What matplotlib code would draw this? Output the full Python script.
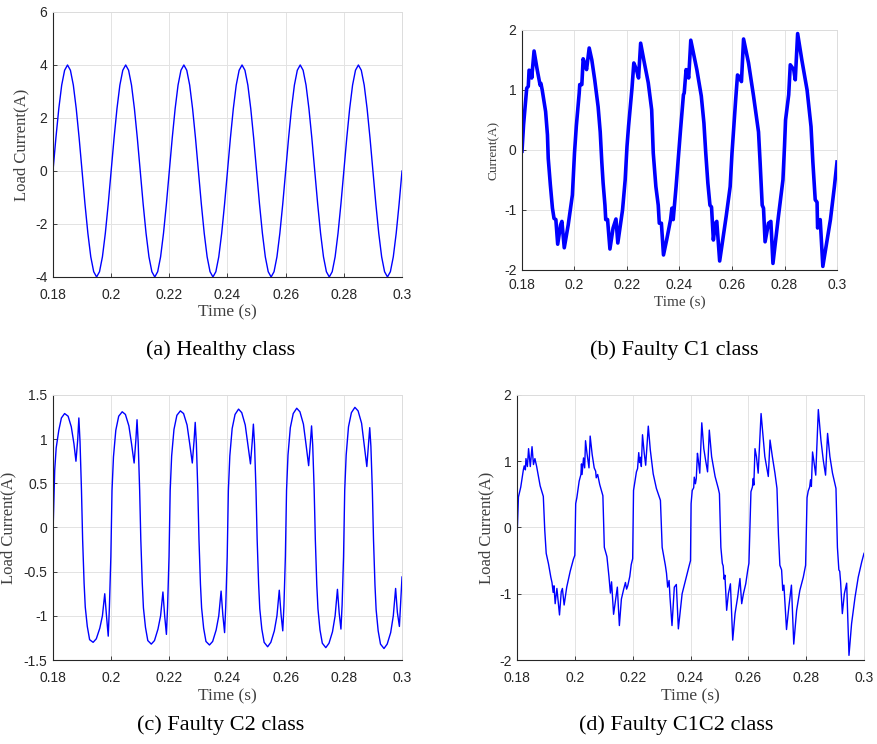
import matplotlib
matplotlib.use('Agg')
import matplotlib.pyplot as plt
import numpy as np

plt.rcParams['axes.unicode_minus'] = False

# --- (a) classe saine : courant de charge, un point par ms de 0.18 a 0.30 s ---
i_sain = [
    0.00, 1.24, 2.35, 3.24, 3.80, 4.00, 3.80, 3.24, 2.35, 1.24,
    0.00, -1.24, -2.35, -3.24, -3.80, -4.00, -3.80, -3.24, -2.35, -1.24,
    0.00, 1.24, 2.35, 3.24, 3.80, 4.00, 3.80, 3.24, 2.35, 1.24,
    0.00, -1.24, -2.35, -3.24, -3.80, -4.00, -3.80, -3.24, -2.35, -1.24,
    0.00, 1.24, 2.35, 3.24, 3.80, 4.00, 3.80, 3.24, 2.35, 1.24,
    0.00, -1.24, -2.35, -3.24, -3.80, -4.00, -3.80, -3.24, -2.35, -1.24,
    0.00, 1.24, 2.35, 3.24, 3.80, 4.00, 3.80, 3.24, 2.35, 1.24,
    0.00, -1.24, -2.35, -3.24, -3.80, -4.00, -3.80, -3.24, -2.35, -1.24,
    0.00, 1.24, 2.35, 3.24, 3.80, 4.00, 3.80, 3.24, 2.35, 1.24,
    0.00, -1.24, -2.35, -3.24, -3.80, -4.00, -3.80, -3.24, -2.35, -1.24,
    0.00, 1.24, 2.35, 3.24, 3.80, 4.00, 3.80, 3.24, 2.35, 1.24,
    0.00, -1.24, -2.35, -3.24, -3.80, -4.00, -3.80, -3.24, -2.35, -1.24,
    0.00,
]

# --- (b) defaut C1 (temps en ms) ---
t_c1_ms = [
    180.0, 180.6, 181.8, 182.4, 182.7, 183.5, 183.7, 184.6, 185.7, 186.9, 187.2, 187.7,
    189.0, 189.7, 190.0, 190.8, 191.6, 192.2, 192.9, 193.6, 194.7, 195.2, 196.1, 197.6, 199.2,
    200.0, 200.7, 201.8, 202.0, 202.8, 203.3, 204.1, 204.6, 205.6, 206.6, 207.7, 209.0,
    209.8, 210.4, 210.9, 211.6, 211.9, 212.6, 213.5, 214.7, 215.8, 216.5, 218.3, 219.3,
    220.0, 220.6, 221.6, 221.9, 222.6, 223.6, 224.4, 225.2, 226.4, 228.1, 229.4,
    230.0, 231.0, 231.9, 232.3, 233.1, 233.9, 235.1, 236.6, 237.1, 237.6, 238.7, 239.7,
    240.4, 241.5, 241.8, 242.5, 243.2, 243.5, 244.3, 246.6, 248.3, 249.3,
    250.0, 250.8, 251.6, 252.2, 252.9, 253.7, 254.2, 255.3, 257.8, 259.3, 260.0,
    260.6, 261.4, 262.1, 262.8, 263.6, 264.4, 266.3, 268.2,
    270.1, 270.7, 271.5, 272.0, 272.6, 273.9, 274.8, 275.6, 277.7, 279.4, 280.0,
    280.4, 281.6, 282.2, 283.5, 284.1, 285.0, 286.6, 288.6,
    290.1, 290.8, 291.7, 292.4, 292.6, 293.6, 294.6, 297.5, 299.0, 300.0,
]
i_c1 = [
    -0.02, 0.42, 1.03, 1.06, 1.33, 1.31, 1.20, 1.65, 1.36, 1.08, 1.11, 1.00,
    0.64, 0.25, -0.14, -0.58, -0.97, -1.14, -1.16, -1.57, -1.25, -1.19, -1.63, -1.25, -0.75,
    -0.05, 0.40, 0.95, 1.09, 1.09, 1.52, 1.42, 1.34, 1.70, 1.50, 1.17, 0.72,
    0.30, -0.20, -0.55, -0.92, -1.16, -1.16, -1.65, -1.30, -1.15, -1.55, -1.00, -0.50,
    0.06, 0.40, 0.90, 1.03, 1.45, 1.34, 1.20, 1.78, 1.50, 1.12, 0.67,
    -0.05, -0.61, -0.92, -1.22, -1.22, -1.75, -1.50, -1.16, -0.97, -1.16, -0.61, -0.05,
    0.34, 0.92, 0.95, 1.34, 1.25, 1.20, 1.83, 1.34, 0.90, 0.45,
    -0.05, -0.55, -0.92, -0.95, -1.50, -1.22, -1.19, -1.85, -1.10, -0.61, -0.05,
    0.34, 0.84, 1.25, 1.22, 1.14, 1.85, 1.45, 0.90,
    0.30, -0.20, -0.92, -0.97, -1.53, -1.22, -1.19, -1.89, -1.10, -0.50, 0.06,
    0.50, 0.92, 1.42, 1.34, 1.17, 1.94, 1.50, 1.00,
    0.39, -0.20, -0.83, -0.87, -1.30, -1.16, -1.94, -1.16, -0.61, -0.20,
]

# --- (c) defaut C2 (temps en ms) ---
t_c2_ms = [
    180.0, 180.1, 180.6, 181.1, 182.0, 182.9, 184.0, 185.2, 186.3, 187.2, 187.9, 188.5, 188.9, 189.3, 189.8,
    190.2, 190.7, 191.1, 191.8, 192.6, 193.8, 194.9, 196.1, 197.0, 197.8, 198.4, 199.0, 199.4, 199.9,
    200.3, 200.8, 201.6, 202.6, 203.8, 204.9, 206.1, 207.0, 207.9, 208.5, 208.9, 209.3, 209.8,
    210.2, 210.7, 211.1, 211.8, 212.6, 213.8, 214.9, 216.1, 217.0, 217.8, 218.4, 219.0, 219.4, 219.9,
    220.3, 220.8, 221.6, 222.6, 223.8, 224.9, 226.1, 227.0, 227.9, 228.5, 228.9, 229.3, 229.8,
    230.2, 230.7, 231.1, 231.8, 232.6, 233.8, 234.9, 236.1, 237.0, 237.8, 238.4, 239.0, 239.4, 239.9,
    240.3, 240.8, 241.6, 242.6, 243.8, 244.9, 246.1, 247.0, 247.9, 248.5, 248.9, 249.3, 249.8,
    250.2, 250.7, 251.1, 251.8, 252.6, 253.8, 254.9, 256.1, 257.0, 257.8, 258.4, 259.0, 259.4, 259.9,
    260.3, 260.8, 261.6, 262.6, 263.8, 264.9, 266.1, 267.0, 267.9, 268.5, 268.9, 269.3, 269.8,
    270.2, 270.7, 271.1, 271.8, 272.6, 273.8, 274.9, 276.1, 277.0, 277.8, 278.4, 279.0, 279.4, 279.9,
    280.3, 280.8, 281.6, 282.6, 283.8, 284.9, 286.1, 287.0, 287.9, 288.5, 288.9, 289.3, 289.8,
    290.2, 290.7, 291.1, 291.8, 292.6, 293.8, 294.9, 296.1, 297.0, 297.8, 298.4, 299.1, 300.0,
]
i_c2 = [
    -0.46, 0.05, 0.65, 0.90, 1.10, 1.24, 1.29, 1.26, 1.14, 0.95, 0.75, 0.99, 1.24, 0.97, 0.42,
    -0.14, -0.63, -0.90, -1.12, -1.27, -1.30, -1.26, -1.14, -1.00, -0.75, -1.00, -1.23, -0.90, -0.33,
    0.42, 0.80, 1.10, 1.26, 1.31, 1.28, 1.15, 0.95, 0.73, 0.99, 1.22, 0.96, 0.42,
    -0.14, -0.63, -0.91, -1.13, -1.28, -1.32, -1.28, -1.15, -1.00, -0.73, -1.00, -1.21, -0.90, -0.33,
    0.42, 0.81, 1.11, 1.27, 1.32, 1.29, 1.16, 0.95, 0.73, 0.98, 1.19, 0.95, 0.42,
    -0.14, -0.64, -0.91, -1.14, -1.29, -1.33, -1.29, -1.16, -1.00, -0.72, -0.99, -1.19, -0.89, -0.33,
    0.42, 0.81, 1.12, 1.28, 1.34, 1.30, 1.16, 0.94, 0.72, 0.97, 1.17, 0.94, 0.42,
    -0.14, -0.64, -0.92, -1.15, -1.30, -1.35, -1.30, -1.17, -1.00, -0.71, -0.98, -1.17, -0.89, -0.33,
    0.42, 0.82, 1.13, 1.29, 1.35, 1.31, 1.17, 0.94, 0.70, 0.96, 1.15, 0.93, 0.42,
    -0.14, -0.65, -0.92, -1.16, -1.31, -1.36, -1.31, -1.18, -1.00, -0.70, -0.97, -1.15, -0.88, -0.33,
    0.42, 0.82, 1.14, 1.30, 1.36, 1.32, 1.18, 0.94, 0.69, 0.95, 1.13, 0.92, 0.42,
    -0.14, -0.65, -0.93, -1.17, -1.32, -1.37, -1.32, -1.19, -1.00, -0.69, -0.96, -1.12, -0.56,
]

# --- (d) defaut C1C2 (temps en ms) ---
t_c1c2_ms = [
    180.0, 180.5, 181.3, 182.2, 182.5, 182.9, 183.1, 183.6, 184.0, 184.6, 185.2, 185.7, 186.2, 186.8,
    188.0, 189.1, 189.6, 190.1, 190.9, 191.7, 192.1, 192.5, 192.8, 193.2, 193.8, 194.7, 195.3, 195.7,
    196.3, 197.2, 198.4, 199.5, 200.0,
    200.3, 200.7, 201.5, 202.1, 202.3, 202.5, 203.0, 203.4, 203.7, 204.2, 204.9, 205.3, 206.0, 206.7,
    207.2, 207.4, 207.9, 208.6, 209.7, 210.2, 211.1, 211.8, 212.3, 212.7, 213.4, 214.0, 214.7, 215.4,
    216.1, 216.9, 217.5, 217.9, 218.3, 219.0, 219.5, 220.0,
    220.3, 221.3, 221.7, 222.1, 222.4, 222.7, 223.0, 223.4, 224.0, 224.5, 225.4, 226.1, 227.1, 228.2,
    229.6, 230.2, 230.8, 231.3, 231.7, 232.1, 232.6, 232.9, 233.6, 234.4, 235.1, 235.8, 237.1, 238.3,
    239.4, 240.0,
    240.2, 240.6, 241.1, 241.3, 241.7, 242.0, 242.4, 242.7, 243.2, 243.9, 244.6, 245.2, 245.9, 246.5,
    247.3, 248.5, 249.6, 250.0, 250.5, 251.0, 251.3, 251.6, 251.9, 252.5, 253.1, 253.8, 254.6, 255.4,
    256.3, 257.1, 257.7, 258.3, 259.1, 259.8, 260.2,
    260.9, 261.4, 261.7, 261.9, 262.3, 262.8, 263.4, 264.4, 265.2, 265.7, 266.9, 267.5, 268.3, 269.2,
    269.9, 270.4, 270.9, 271.5, 271.9, 272.3, 273.2, 274.0, 274.9, 275.7, 276.7, 277.8, 279.0, 279.8,
    280.3, 280.7, 281.2, 281.5, 281.8, 282.2, 282.6, 283.3, 284.2, 285.1, 285.9, 286.7, 287.4, 288.2,
    289.1, 290.3, 290.8, 291.3, 291.6, 291.9, 292.5, 293.2, 294.0, 294.8, 295.7, 296.9, 298.0, 299.2,
    300.0,
]
i_c1c2 = [
    -0.17, 0.46, 0.61, 0.87, 0.93, 0.87, 1.04, 0.92, 1.19, 0.92, 1.22, 0.95, 1.04, 0.92,
    0.63, 0.47, -0.04, -0.39, -0.55, -0.75, -0.83, -0.98, -0.88, -1.15, -0.92, -1.32, -0.97, -0.92,
    -1.17, -0.90, -0.66, -0.48, -0.42,
    0.36, 0.45, 0.70, 0.80, 0.96, 0.80, 1.05, 0.90, 1.31, 1.12, 0.90, 1.38, 1.10, 0.90,
    0.85, 0.75, 0.80, 0.65, 0.48, -0.30, -0.44, -0.74, -0.99, -0.82, -1.31, -1.12, -0.90, -1.48,
    -1.08, -0.93, -0.83, -0.93, -0.88, -0.74, -0.56, -0.47,
    0.56, 0.84, 0.89, 1.13, 0.98, 1.06, 0.92, 1.40, 1.12, 0.94, 1.53, 1.17, 0.81, 0.59,
    0.41, -0.30, -0.45, -0.57, -0.69, -0.90, -0.80, -1.05, -1.48, -0.90, -0.86, -1.53, -1.00, -0.79,
    -0.60, -0.50,
    0.36, 0.56, 0.60, 0.76, 0.66, 0.74, 1.12, 1.02, 0.82, 1.58, 1.19, 1.02, 0.84, 1.47,
    1.07, 0.77, 0.59, 0.51, -0.30, -0.54, -0.58, -0.78, -0.72, -1.25, -1.00, -0.85, -1.70, -1.30,
    -1.05, -0.77, -1.15, -1.00, -0.85, -0.64, -0.54,
    0.54, 0.61, 0.74, 0.64, 1.19, 1.07, 0.82, 1.72, 1.32, 1.07, 0.77, 1.32, 1.07, 0.82,
    0.59, -0.10, -0.57, -0.64, -0.95, -0.87, -1.54, -1.20, -0.87, -1.76, -1.25, -0.95, -0.75, -0.57,
    0.45, 0.55, 0.61, 0.72, 0.62, 1.14, 1.02, 0.79, 1.78, 1.32, 1.02, 0.79, 1.42, 1.07,
    0.82, 0.59, -0.30, -0.64, -0.66, -0.82, -1.30, -1.00, -0.84, -1.93, -1.45, -1.05, -0.75, -0.52,
    -0.39,
]

# graduations communes
x_ticks = [0.18, 0.20, 0.22, 0.24, 0.26, 0.28, 0.30]
x_labels = ['0.18', '0.2', '0.22', '0.24', '0.26', '0.28', '0.3']

BLEU = '#0000ff'
GRIS = '#262626'
SERIF = 'Liberation Serif'
SANS = 'Liberation Sans'


def style_axe(ax, ylim, yticks, ylabels, ylabel, taille_ylabel, taille_xlabel, pad_y, pad_x):
    """Mise en forme facon MATLAB."""
    ax.set_xlim(0.18, 0.30)
    ax.set_ylim(*ylim)
    ax.set_xticks(x_ticks)
    ax.set_xticklabels(x_labels)
    ax.set_yticks(yticks)
    ax.set_yticklabels(ylabels)
    ax.grid(True, color='#e3e3e3', linewidth=0.7)
    ax.set_axisbelow(True)
    for cote in ['top', 'right']:
        ax.spines[cote].set_color('#dcdcdc')
        ax.spines[cote].set_linewidth(0.7)
    for cote in ['left', 'bottom']:
        ax.spines[cote].set_color(GRIS)
        ax.spines[cote].set_linewidth(0.8)
    ax.tick_params(direction='in', length=3, width=0.6, colors=GRIS, labelsize=10)
    ax.tick_params(axis='x', pad=pad_x)
    ax.tick_params(axis='y', pad=4)
    for lab in ax.get_xticklabels() + ax.get_yticklabels():
        lab.set_family(SANS)
    ax.set_ylabel(ylabel, fontsize=taille_ylabel, family=SERIF, color='#404040', labelpad=pad_y)
    ax.set_xlabel('Time (s)', fontsize=taille_xlabel, family=SERIF, color='#404040', labelpad=2)


fig = plt.figure(figsize=(8.77, 7.44), dpi=100)

ax_a = fig.add_axes([0.0604, 0.6277, 0.398, 0.3562])
ax_b = fig.add_axes([0.5952, 0.6371, 0.3592, 0.3226])
ax_c = fig.add_axes([0.0604, 0.1129, 0.398, 0.3562])
ax_d = fig.add_axes([0.5895, 0.1129, 0.3957, 0.3562])

t_sain = np.linspace(0.18, 0.30, len(i_sain))
ax_a.plot(t_sain, i_sain, color=BLEU, linewidth=1.0)
ax_b.plot(np.array(t_c1_ms) / 1000, i_c1, color=BLEU, linewidth=2.6)
ax_c.plot(np.array(t_c2_ms) / 1000, i_c2, color=BLEU, linewidth=1.0)
ax_d.plot(np.array(t_c1c2_ms) / 1000, i_c1c2, color=BLEU, linewidth=1.0)

style_axe(ax_a, (-4, 6), [-4, -2, 0, 2, 4, 6], ['-4', '-2', '0', '2', '4', '6'],
          'Load Current(A)', 12, 12.5, 4, 8)
style_axe(ax_b, (-2, 2), [-2, -1, 0, 1, 2], ['-2', '-1', '0', '1', '2'],
          'Current(A)', 9.5, 11, 3, 6)
style_axe(ax_c, (-1.5, 1.5), [-1.5, -1, -0.5, 0, 0.5, 1, 1.5],
          ['-1.5', '-1', '-0.5', '0', '0.5', '1', '1.5'],
          'Load Current(A)', 12, 12.5, 5, 8)
style_axe(ax_d, (-2, 2), [-2, -1, 0, 1, 2], ['-2', '-1', '0', '1', '2'],
          'Load Current(A)', 12, 12.5, 3, 8)

# legendes sous chaque graphe
fig.text(0.251, 0.529, '(a) Healthy class', ha='center', va='center', fontsize=16, family=SERIF)
fig.text(0.7685, 0.529, '(b) Faulty C1 class', ha='center', va='center', fontsize=16, family=SERIF)
fig.text(0.251, 0.0255, '(c) Faulty C2 class', ha='center', va='center', fontsize=16, family=SERIF)
fig.text(0.7708, 0.0255, '(d) Faulty C1C2 class', ha='center', va='center', fontsize=16, family=SERIF)

fig.savefig('out.png', dpi=100)
